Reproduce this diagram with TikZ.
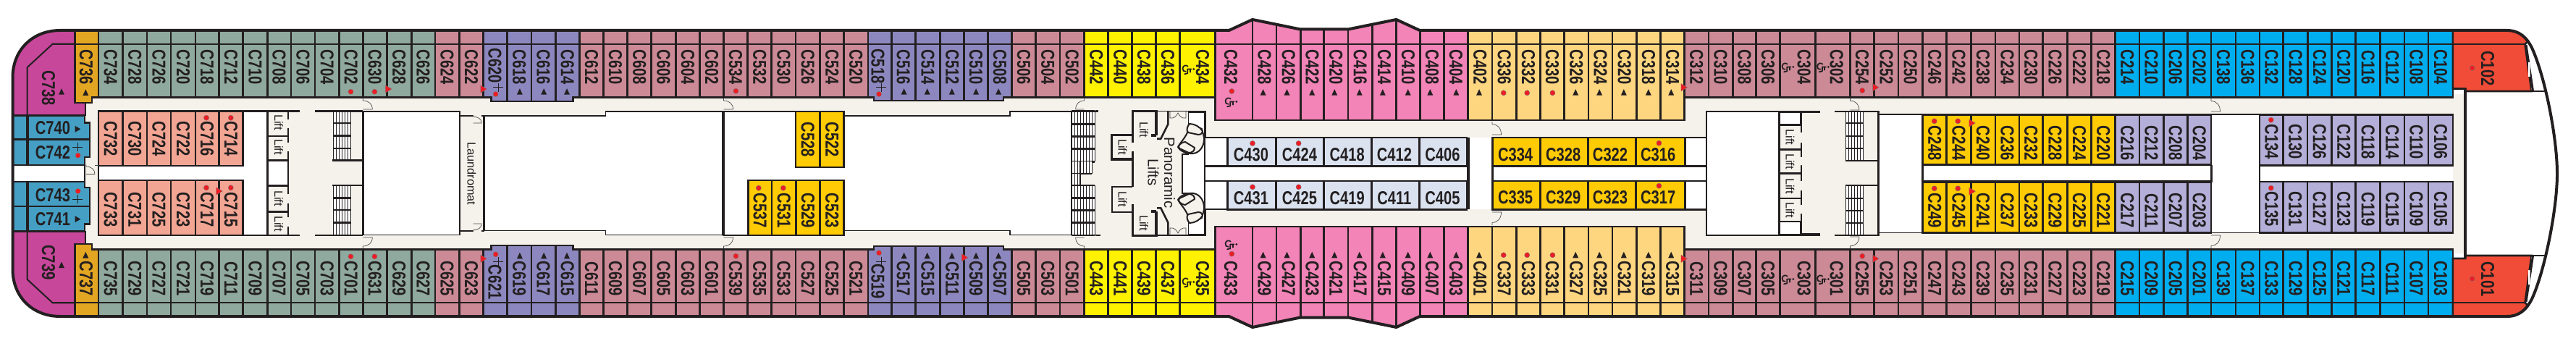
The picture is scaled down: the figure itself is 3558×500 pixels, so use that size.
\documentclass[tikz,border=0pt]{standalone}
\usepackage{fontspec}
\setmainfont{Liberation Sans}
\newfontfamily\cabf[FakeStretch=0.78]{Liberation Sans Bold}
\definecolor{ink}{HTML}{231F20}
\definecolor{magc}{HTML}{C7479B}
\definecolor{goldc}{HTML}{E3A623}
\definecolor{greenc}{HTML}{8FA99E}
\definecolor{salmc}{HTML}{F2A593}
\definecolor{bluec}{HTML}{459FC4}
\definecolor{corr}{HTML}{F5F1EB}
\definecolor{rosec}{HTML}{CC8A96}
\definecolor{perc}{HTML}{8C88BF}
\definecolor{ambc}{HTML}{FFCB05}
\definecolor{yelc}{HTML}{FFF200}
\definecolor{pinkc}{HTML}{F284B7}
\definecolor{palec}{HTML}{DAE2F0}
\definecolor{orac}{HTML}{FFD680}
\definecolor{cyanc}{HTML}{00AEEF}
\definecolor{lavc}{HTML}{B4AFD8}
\definecolor{redc}{HTML}{F04C37}
\definecolor{dotc}{HTML}{ED1C24}
\tikzset{
  sep/.style={draw=ink,line width=2.6pt},
  wall/.style={draw=ink,line width=2.6pt},
  thickwall/.style={draw=ink,line width=3.6pt},
  thinwall/.style={draw=ink,line width=1.6pt},
  doorline/.style={draw=ink!80,line width=0.7pt},
  cablabel/.style={font=\cabf\fontsize{25.8}{26}\selectfont,text=ink,inner sep=0pt,rotate=-90},
  cabhor/.style={font=\cabf\fontsize{25.8}{26}\selectfont,text=ink,inner sep=0pt},
  smalllabel/.style={font=\fontsize{16.3}{17}\selectfont,text=ink,inner sep=0pt,rotate=-90},
  biglabel/.style={font=\fontsize{20.5}{21}\selectfont,text=ink,inner sep=0pt,rotate=-90},
  reddot/.style={fill=dotc,draw=ink!60,line width=0.4pt},
}
\newcommand\hullpath{(83,42) -- (1697.5,42) -- (1730,27) -- (1796,40.5) -- (1862,40.5) -- (1928.6,27) -- (1961,42) -- (3462.6,42) .. controls (3480,42) and (3490,52) .. (3497,66) .. controls (3515,105) and (3532,190) .. (3532,240) .. controls (3532,288) and (3515,374) .. (3497,413) .. controls (3490,427) and (3480,437) .. (3462.6,437) -- (1961,437) -- (1928.6,452) -- (1862,438.5) -- (1796,438.5) -- (1730,452) -- (1697.5,437) -- (83,437) .. controls (45,437) and (17.5,410) .. (17.5,372) -- (17.5,107) .. controls (17.5,69) and (45,42) .. (83,42) -- cycle}
\newcommand\cabgroup[3]{%
  \foreach \l/\r/\a/\b in {#3}{%
    \fill[#1] (\l,20) rectangle (\r,#2);
    \fill[#1] (\l,479-#2) rectangle (\r,459);
    \draw[sep] (\l,20) -- (\l,#2) -- (\r,#2) -- (\r,20);
    \draw[sep] (\l,459) -- (\l,479-#2) -- (\r,479-#2) -- (\r,459);
    \pgfmathsetmacro\m{(\l+\r)/2}
    \node[cablabel] (\a) at (\m,93) {\a};
    \node[cablabel] (\b) at (\m,385) {\b};
  }}
\newcommand\cabblank[4]{%
  \fill[#1] (#2,20) rectangle (#3,#4);
  \fill[#1] (#2,479-#4) rectangle (#3,459);
  \draw[sep] (#2,20) -- (#2,#4) -- (#3,#4) -- (#3,20);
  \draw[sep] (#2,459) -- (#2,479-#4) -- (#3,479-#4) -- (#3,459);}
\newcommand\innerrow[5]{%
  \foreach \l/\r/\a in {#5}{%
    \filldraw[fill=#1,sep] (\l,#2) rectangle (\r,#3);
    \pgfmathsetmacro\m{(\l+\r)/2}
    \node[cablabel] (\a) at (\m,#4) {\a};
  }}
\newcommand\innerhor[5]{%
  \foreach \l/\r/\m/\a in {#5}{%
    \filldraw[fill=#1,sep] (\l,#2) rectangle (\r,#3);
    \node[cabhor] (\a) at (\m,#4) {\a};
  }}
\newcommand\dotat[2]{\fill[reddot] (#1,#2) circle[radius=3.6pt];}
\newcommand\triup[2]{\fill[ink] (#1-4,#2+4) -- (#1+4,#2+4) -- (#1,#2-4.5) -- cycle;}
\newcommand\triright[2]{\fill[ink] (#1-3.6,#2-4.5) -- (#1-3.6,#2+4.5) -- (#1+4,#2) -- cycle;}
\newcommand\redtri[2]{\filldraw[fill=dotc,draw=ink!60,line width=0.3pt] (#1-3.6,#2-5.2) -- (#1-3.6,#2+5.2) -- (#1+5,#2) -- cycle;}
\newcommand\plusmark[2]{\draw[ink,line width=0.9pt] (#1-7,#2) -- (#1+7,#2) (#1,#2-6) -- (#1,#2+6);}
\newcommand\wheelat[2]{\begin{scope}[shift={(#1,#2+3)},scale=0.85]
  \draw[ink,line width=1.7pt,line cap=round,line join=round] (4,-3) -- (-2,-3) -- (-2,4) -- (-7,5);
  \draw[ink,line width=1.7pt,line cap=round] (2,-3) -- (2,2);
  \draw[ink,line width=1.7pt,line cap=round] (-1.5,-7.5) .. controls (-4,-10) and (-9,-9.5) .. (-10,-4.5) .. controls (-10.5,-1) and (-8,1.5) .. (-5,1);
  \fill[ink] (8,-3) circle[radius=1.9pt];
\end{scope}}
\newcommand\door[4]{\draw[doorline] (#1,#2) -- (#1,#2+#4*0.2) .. controls (#1+#3*0.6,#2+#4*0.2) and (#1+#3,#2+#4*0.5) .. (#1+#3,#2+#4) -- (#1,#2+#4);}
\newcommand\stairflight[5]{%
  \fill[white] (#1,#3) rectangle (#1+#2*4,#4);
  \foreach \i in {0,...,#2}{\draw[ink,line width=0.9pt] (#1+\i*4,#3) -- (#1+\i*4,#4);}
  \foreach \v in {#5}{\draw[ink,line width=2.8pt] (#1,\v) -- (#1+#2*4,\v);}}
\begin{document}
\begin{tikzpicture}[x=1pt,y=-1pt]
\useasboundingbox (0,0) rectangle (3558,500);
\fill[white] (0,0) rectangle (3558,500);
\begin{scope}
\clip \hullpath;
\fill[corr] (116,130) rectangle (3405,350);
\filldraw[fill=white,wall] (136,153.5) rectangle (369.3,325);
\filldraw[fill=white,thinwall] (501.3,154) rectangle (635,324.5);
\filldraw[fill=white,thinwall] (669,160) -- (836.5,160) -- (836.5,154) -- (999,154) -- (999,324.5) -- (836.5,324.5) -- (836.5,318.5) -- (669,318.5) -- cycle;
\filldraw[fill=white,thinwall] (999,154) -- (1099,154) -- (1099,160) -- (1395,160) -- (1395,154) -- (1480,154) -- (1480,324.5) -- (1395,324.5) -- (1395,318.5) -- (1166,318.5) -- (1166,325) -- (999,325) -- cycle;
\draw[thickwall] (999,154) -- (999,325);
\draw[wall] (635,154) -- (635,325) (668.5,160) -- (668.5,319);
\draw[wall] (501.3,153.7) -- (501.3,325);
\fill[corr] (369.3,155) rectangle (500,323);
\draw[wall] (369.3,153.5) -- (369.3,325);
\draw[wall] (369.3,153.5) -- (414,153.5) (435,153.5) -- (501.3,153.5);
\draw[wall] (369.3,325) -- (414,325) (435,325) -- (501.3,325);
\filldraw[fill=white,wall] (369.3,221.7) rectangle (398,256.7);
\draw[wall] (369.3,187.8) -- (398,187.8) (369.3,292.5) -- (398,292.5);
\draw[wall] (398,155) -- (398,165) (398,177) -- (398,197) (398,209) -- (398,221)
 (398,257) -- (398,268) (398,281) -- (398,300) (398,313) -- (398,325);
\node[smalllabel] (l1) at (385,169) {Lift};
\node[smalllabel] (l2) at (385,203) {Lift};
\node[smalllabel] (l3) at (385,274) {Lift};
\node[smalllabel] (l4) at (385,309) {Lift};
\stairflight{460}{6}{155}{221.7}{170,187.7,205,221.7}
\stairflight{460}{6}{256}{323.5}{256,273.3,290,307.3}
\draw[wall] (459,221.7) -- (501.3,221.7) (459,256) -- (501.3,256);
\fill[corr] (637,158) rectangle (667,321);
\draw[thinwall] (636,160) -- (653.6,160) (665,160) -- (669,160) (636,319) -- (653.6,319) (665,319) -- (669,319);
\node[smalllabel] (laun) at (651.5,240) {Laundromat};
\door{653.6}{159}{11.5}{11}
\door{653.6}{320}{11.5}{-11}
\fill[corr] (1500,154) rectangle (1665,325);
\stairflight{1480}{8}{153.3}{223.3}{153.3,171.3,188.3,205.3,223.3}
\stairflight{1480}{7}{223.3}{240}{240}
\stairflight{1480}{3}{240}{256}{}
\stairflight{1480}{8}{256}{325}{256,273.3,290.3,307.7,325}
\draw[thinwall] (1492,223) -- (1492,256);
\draw[wall] (1513,153.3) -- (1517,153.3) (1513,325) -- (1520,325);
\draw[thickwall] (1597,187) -- (1597,153.5) -- (1564.3,153.5) -- (1564.3,186.5) -- (1535.5,186.5) -- (1535.5,220) -- (1564.3,220) -- (1564.3,209);
\draw[thickwall] (1564.3,209) -- (1564.3,258);
\draw[thickwall] (1564.3,186.5) -- (1564.3,197);
\draw[thickwall] (1590,187) -- (1597,187);
\draw[thickwall] (1597,292) -- (1597,325.5) -- (1564.3,325.5) -- (1564.3,292) (1590,292) -- (1597,292);
\draw[wall] (1564.3,258) -- (1536,258) -- (1536,293) -- (1564.3,293) -- (1564.3,282);
\draw[wall] (1598,191.7) -- (1603.3,191.7) -- (1613.3,171.7) -- (1613.3,154);
\draw[wall] (1598,287.3) -- (1603.3,287.3) -- (1613.3,307.3) -- (1613.3,325);
\draw[thinwall] (1598,153.5) -- (1665,153.5) -- (1665,325) -- (1598,325);
\filldraw[fill=white,thinwall] (1641.5,155) -- (1664,155) -- (1664,323.5) -- (1641.5,323.5) -- (1641.5,267) -- (1633,267) -- (1633,213) -- (1641.5,213) -- cycle;
\draw[doorline] (1616,154) -- (1616,163) .. controls (1622,164) and (1625,160) .. (1627,156) .. controls (1629,160) and (1632,164) .. (1638,163) -- (1638,154);
\draw[doorline] (1616,324) -- (1616,315) .. controls (1622,314) and (1625,318) .. (1627,322) .. controls (1629,318) and (1632,314) .. (1638,315) -- (1638,324);
\filldraw[fill=corr,draw=ink,line width=2pt,line join=round] (1643,171) .. controls (1640,175) and (1640,177) .. (1640,183) .. controls (1636,192) and (1630,197) .. (1627,203) .. controls (1630,209) and (1640,213) .. (1648,212) .. controls (1658,211) and (1664,200) .. (1663,190) .. controls (1662,184) and (1660,180) .. (1660,178) -- cycle;
\filldraw[fill=corr,draw=ink,line width=2pt,line join=round] (1643,171) .. controls (1650,171) and (1657,175) .. (1661,181) .. controls (1660,186) and (1657,186) .. (1655,186) -- (1641,183) .. controls (1638,180) and (1640,174) .. (1643,171) -- cycle;
\filldraw[fill=corr,draw=ink,line width=2pt,line join=round] (1637,196) -- (1650,204) .. controls (1650,209) and (1646,211) .. (1642,211) -- (1629,205) .. controls (1626,202) and (1630,197) .. (1637,196) -- cycle;
\filldraw[fill=corr,draw=ink,line width=2pt,line join=round] (1643,308) .. controls (1640,304) and (1640,302) .. (1640,296) .. controls (1636,287) and (1630,282) .. (1627,276) .. controls (1630,270) and (1640,266) .. (1648,267) .. controls (1658,268) and (1664,279) .. (1663,289) .. controls (1662,295) and (1660,299) .. (1660,301) -- cycle;
\filldraw[fill=corr,draw=ink,line width=2pt,line join=round] (1643,308) .. controls (1650,308) and (1657,304) .. (1661,298) .. controls (1660,293) and (1657,293) .. (1655,293) -- (1641,296) .. controls (1638,299) and (1640,305) .. (1643,308) -- cycle;
\filldraw[fill=corr,draw=ink,line width=2pt,line join=round] (1637,283) -- (1650,275) .. controls (1650,270) and (1646,268) .. (1642,268) -- (1629,274) .. controls (1626,277) and (1630,282) .. (1637,283) -- cycle;
\node[smalllabel] (l5) at (1580,179) {Lift};
\node[smalllabel] (l6) at (1550.5,203) {Lift};
\node[smalllabel] (l7) at (1550.5,275) {Lift};
\node[smalllabel] (l8) at (1580,308) {Lift};
\node[biglabel] (pan) at (1615.5,238.5) {Panoramic};
\node[biglabel] (lif) at (1593,238) {Lifts};
\fill[white] (1665,190) rectangle (2357,289);
\draw[thinwall] (1665,190) -- (1697,190) (1665,289) -- (1697,289);
\draw[wall] (1665,229.3) -- (2027,229.3) (1665,250) -- (2027,250);
\innerhor{palec}{190}{229.3}{214}{1695.6/1762.6/1728/C430,1762.6/1828.7/1795/C424,1828.7/1894.3/1860.7/C418,1894.3/1960.7/1925.9/C412,1960.7/2025.8/1992.5/C406}
\innerhor{palec}{250}{289.3}{274}{1695.6/1762.6/1728/C431,1762.6/1828.7/1795/C425,1828.7/1894.3/1860.7/C419,1894.3/1960.7/1925.9/C411,1960.7/2025.8/1992.5/C405}
\innerhor{ambc}{190}{229.3}{214}{2061.4/2127.2/2093.1/C334,2127.2/2193.4/2159.2/C328,2193.4/2259.2/2224/C322,2259.2/2327.3/2290.2/C316}
\innerhor{ambc}{250}{289.3}{273}{2061.4/2127.2/2093.1/C335,2127.2/2193.4/2159.2/C329,2193.4/2259.2/2224/C323,2259.2/2327.3/2290.2/C317}
\draw[thickwall] (2027.7,190) -- (2027.7,289.3) (2061.4,190) -- (2061.4,289.3);
\draw[wall] (2061.4,229.3) -- (2357,229.3) (2061.4,250) -- (2357,250) (2327.3,190) -- (2357,190) (2327.3,289.3) -- (2357,289.3);
\filldraw[fill=white,wall] (2357,154) -- (2512.5,154) -- (2512.5,155) -- (2487.3,155) -- (2487.3,323.5) -- (2512.5,323.5) -- (2512.5,325) -- (2357,325) -- cycle;
\fill[corr] (2458.5,155.5) rectangle (2487,322.5);
\draw[wall] (2534,154) -- (2594.5,154) -- (2594.5,325) -- (2534,325);
\draw[wall] (2457.4,154) -- (2457.4,325);
\draw[wall] (2512.5,154) -- (2487.3,154) (2512.5,325) -- (2487.3,325);
\fill[corr] (2485.5,183) rectangle (2489,197) (2485.5,217) rectangle (2489,228) (2485.5,250) rectangle (2489,263) (2485.5,283) rectangle (2489,295);
\filldraw[fill=white,wall] (2457.4,155) rectangle (2487.3,172.5);
\filldraw[fill=white,wall] (2457.4,306) rectangle (2487.3,324);
\draw[wall] (2457.4,206.5) -- (2487.3,206.5) (2457.4,239.5) -- (2487.3,239.5) (2457.4,274) -- (2487.3,274);
\node[smalllabel] (l9) at (2472.5,189.5) {Lift};
\node[smalllabel] (l10) at (2472.5,223) {Lift};
\node[smalllabel] (l11) at (2472.5,257) {Lift};
\node[smalllabel] (l12) at (2472.5,290) {Lift};
\stairflight{2549}{6}{155}{222}{170,188,205,222}
\stairflight{2549}{6}{256}{324}{256,274,291,308}
\draw[wall] (2548.5,222) -- (2594.5,222) (2548.5,256) -- (2594.5,256);
\filldraw[fill=white,thinwall] (2595.5,158) rectangle (2655.6,321.5);
\filldraw[fill=white,thinwall] (3054,158) rectangle (3121,321.5);
\fill[white] (2655.6,227.6) rectangle (3054,250.3);
\fill[white] (3121,228.5) rectangle (3387.9,251);
\draw[wall] (2655.6,227.6) -- (3055,227.6);
\draw[thickwall] (2655.6,250.3) -- (3055,250.3);
\draw[wall] (2655.6,227.6) -- (2655.6,252);
\innerrow{ambc}{158.3}{227.6}{198}{2655.6/2688.6/C248,2688.6/2722.2/C244,2722.2/2755.9/C240,2755.9/2788.8/C236,2788.8/2821.7/C232,2821.7/2855.4/C228,2855.4/2888.7/C224,2888.7/2921.6/C220}
\innerrow{ambc}{252}{321.3}{291}{2655.6/2688.6/C249,2688.6/2722.2/C245,2722.2/2755.9/C241,2755.9/2788.8/C237,2788.8/2821.7/C233,2821.7/2855.4/C229,2855.4/2888.7/C225,2888.7/2921.6/C221}
\innerrow{lavc}{158.3}{227.6}{198}{2921.6/2954.9/C216,2954.9/2988.2/C212,2988.2/3021.4/C208,3021.4/3054/C204}
\innerrow{lavc}{252}{321.3}{291}{2921.6/2954.9/C217,2954.9/2988.2/C211,2988.2/3021.4/C207,3021.4/3054/C203}
\draw[wall] (3054.5,227.6) -- (3054.5,252);
\innerrow{lavc}{158.3}{228.5}{196}{3121/3153.7/C134,3153.7/3186.8/C130,3186.8/3220.6/C126,3220.6/3253.7/C122,3253.7/3287.5/C118,3287.5/3321/C114,3321/3354/C110,3354/3387.9/C106}
\innerrow{lavc}{251}{321.3}{289}{3121/3153.7/C135,3153.7/3186.8/C131,3186.8/3220.6/C127,3220.6/3253.7/C123,3253.7/3287.5/C119,3287.5/3321/C115,3321/3354/C109,3354/3387.9/C105}
\draw[wall] (3121,158) -- (3121,321.5);
\innerrow{salmc}{153.5}{229}{192}{136/169.5/C732,169.5/202.8/C730,202.8/236/C724,236/269.8/C722,269.8/302.3/C716,302.3/335.6/C714}
\innerrow{salmc}{249}{325}{289.5}{136/169.5/C733,169.5/202.8/C731,202.8/236/C725,236/269.8/C723,269.8/302.3/C717,302.3/335.6/C715}
\innerrow{ambc}{154}{231}{193}{1099/1132.7/C528,1132.7/1165.6/C522}
\innerrow{ambc}{249}{325}{291}{1033.4/1066/C537,1066/1099.4/C531,1099.4/1132.7/C529,1132.7/1165.6/C523}
\cabgroup{greenc}{134.5}{135.9/169.5/C734/C735,169.5/202.8/C728/C729,202.8/236/C726/C727,236/269.8/C720/C721,269.8/302.3/C718/C719,302.3/335.6/C712/C711,335.6/369.3/C710/C709,369.3/401.8/C708/C707,401.8/435.1/C706/C705,435.1/468.4/C704/C703,468.4/501.3/C702/C701,501.3/534.2/C630/C631,534.2/568.3/C628/C629,568.3/600.8/C626/C627}
\cabgroup{rosec}{134.5}{600.8/634.4/C624/C625,634.4/667.4/C622/C623}
\cabgroup{rosec}{134.5}{800.5/833.4/C612/C611,833.4/866.7/C610/C609,866.7/899.7/C608/C607,899.7/933.3/C606/C605,933.3/966.6/C604/C603,966.6/999.5/C602/C601,999.5/1032.5/C534/C539,1032.5/1065.7/C532/C535,1065.7/1099/C530/C533,1099/1132.7/C526/C527,1132.7/1165.6/C524/C525,1165.6/1198.9/C520/C521}
\cabblank{perc}{667.4}{700.6}{134.5}
\cabblank{perc}{1198.9}{1231.4}{134.5}
\cabgroup{perc}{134.5}{700.6/733.9/C618/C619,733.9/767.2/C616/C617,767.2/800.5/C614/C615}
\cabgroup{perc}{134.5}{1231.4/1264.3/C516/C517,1264.3/1298.7/C514/C515,1298.7/1331.6/C512/C511,1331.6/1364.6/C510/C509,1364.6/1397.5/C508/C507}
\filldraw[fill=perc,wall] (678.5,133) -- (678.5,140) -- (791.6,140) -- (791.6,133);
\filldraw[fill=perc,wall] (678.5,346) -- (678.5,339) -- (791.6,339) -- (791.6,346);
\filldraw[fill=perc,wall] (1207,133) -- (1207,139) -- (1386,139) -- (1386,133);
\filldraw[fill=perc,wall] (1207,346) -- (1207,340) -- (1386,340) -- (1386,346);
\draw[sep] (700.6,125) -- (700.6,140) (733.9,125) -- (733.9,140) (767.2,125) -- (767.2,140) (1231.4,125) -- (1231.4,139) (1264.3,125) -- (1264.3,139) (1298.7,125) -- (1298.7,139) (1331.6,125) -- (1331.6,139) (1364.6,125) -- (1364.6,139);
\draw[sep] (700.6,339) -- (700.6,354) (733.9,339) -- (733.9,354) (767.2,339) -- (767.2,354) (1231.4,340) -- (1231.4,354) (1264.3,340) -- (1264.3,354) (1298.7,340) -- (1298.7,354) (1331.6,340) -- (1331.6,354) (1364.6,340) -- (1364.6,354);
\node[cablabel] (C620) at (683.4,91) {C620};
\node[cablabel] (C621) at (683.4,390) {C621};
\node[cablabel] (C518) at (1212.6,91.5) {C518};
\node[cablabel] (C519) at (1212.6,389) {C519};
\cabgroup{rosec}{134.5}{1397.5/1430.4/C506/C505,1430.4/1464/C504/C503,1464/1497.7/C502/C501}
\cabgroup{yelc}{134.5}{1497.7/1530.7/C442/C443,1530.7/1563.6/C440/C441,1563.6/1596.5/C438/C439,1596.5/1629.4/C436/C437}
\cabblank{yelc}{1629.4}{1678.4}{134.5}
\node[cablabel] (C434) at (1661,93) {C434};
\node[cablabel] (C435) at (1661,385) {C435};
\cabblank{pinkc}{1678.4}{1730}{166}
\node[cablabel] (C432) at (1700,93) {C432};
\node[cablabel] (C433) at (1700,385) {C433};
\cabgroup{pinkc}{166}{1730/1763/C428/C429,1763/1796.3/C426/C427,1796.3/1828.7/C422/C423,1828.7/1862/C420/C421,1862/1895.3/C416/C417,1895.3/1928.6/C414/C415,1928.6/1961.5/C410/C409,1961.5/1994.4/C408/C407,1994.4/2027.7/C404/C403}
\cabgroup{orac}{166}{2027.7/2061/C402/C401,2061/2094.3/C336/C337,2094.3/2127.6/C332/C333,2127.6/2160.5/C330/C331,2160.5/2193.8/C326/C327,2193.8/2227.1/C324/C325,2227.1/2260.4/C320/C321,2260.4/2293.7/C318/C319,2293.7/2326.6/C314/C315}
\cabgroup{rosec}{134.5}{2326.6/2359.9/C312/C311,2359.9/2393.2/C310/C309,2393.2/2425.6/C308/C307,2425.6/2458.2/C306/C305}
\cabblank{rosec}{2458.2}{2507.2}{134.5}
\cabblank{rosec}{2507.2}{2555.4}{134.5}
\node[cablabel] (C304) at (2491.8,93) {C304};
\node[cablabel] (C303) at (2491.8,385) {C303};
\node[cablabel] (C302) at (2536.6,93) {C302};
\node[cablabel] (C301) at (2536.6,385) {C301};
\cabgroup{rosec}{134.5}{2555.4/2588.7/C254/C255,2588.7/2622/C252/C253,2622/2655.6/C250/C251,2655.6/2688.6/C246/C247,2688.6/2722.2/C242/C243,2722.2/2755.9/C238/C239,2755.9/2788.8/C234/C235,2788.8/2821.7/C230/C231,2821.7/2855.4/C226/C227,2855.4/2888.7/C222/C223,2888.7/2921.6/C218/C219}
\cabgroup{cyanc}{134.5}{2921.6/2954.9/C214/C215,2954.9/2988.2/C210/C209,2988.2/3021.4/C206/C205,3021.4/3054/C202/C201,3054/3087.9/C138/C139,3087.9/3121/C136/C137,3121/3153.7/C132/C133,3153.7/3187.5/C128/C129,3187.5/3220.6/C124/C125,3220.6/3253.7/C120/C121,3253.7/3287.5/C116/C117,3287.5/3321/C112/C111,3321/3354/C108/C107,3354/3387.9/C104/C103}
\filldraw[fill=goldc,wall] (103.3,20) -- (103.3,142) -- (127,142) -- (127,134.5) -- (135.9,134.5) -- (135.9,20);
\filldraw[fill=goldc,wall] (103.3,459) -- (103.3,337) -- (127,337) -- (127,344.5) -- (135.9,344.5) -- (135.9,459);
\node[cablabel] (C736) at (119,93) {C736};
\node[cablabel] (C737) at (119,385) {C737};
\filldraw[fill=magc,wall] (0,20) -- (103.3,20) -- (103.3,142) -- (118,142) -- (118,159) -- (0,159) -- cycle;
\filldraw[fill=magc,wall] (0,459) -- (103.3,459) -- (103.3,337) -- (118,337) -- (118,320) -- (0,320) -- cycle;
\draw[wall,line width=2pt] (37.7,159) -- (37.7,93) -- (72.7,60.7) -- (103,60.7);
\draw[wall,line width=2pt] (37.7,320) -- (37.7,386) -- (72.7,418.3) -- (103,418.3);
\node[cablabel] (C738) at (67,121.7) {C738};
\node[cablabel] (C739) at (67,362.5) {C739};
\filldraw[fill=bluec,wall] (10,159.5) -- (117,159.5) -- (117,169.5) -- (124,169.5) -- (124,192.7) -- (10,192.7) -- cycle;
\filldraw[fill=bluec,wall] (10,192.7) -- (124,192.7) -- (124,217) -- (117,217) -- (117,228) -- (10,228) -- cycle;
\filldraw[fill=bluec,wall] (10,251) -- (117,251) -- (117,259) -- (124,259) -- (124,285) -- (10,285) -- cycle;
\filldraw[fill=bluec,wall] (10,285) -- (124,285) -- (124,309.5) -- (117,309.5) -- (117,319) -- (10,319) -- cycle;
\filldraw[fill=white,wall] (10,228) rectangle (117,251);
\draw[thickwall] (38,159.5) -- (38,228) (38,251) -- (38,319);
\node[cabhor] (C740) at (73,177) {C740};
\node[cabhor] (C742) at (73,210.5) {C742};
\node[cabhor] (C743) at (73,270) {C743};
\node[cabhor] (C741) at (73,303) {C741};
\door{119}{227.5}{12}{13}
\draw[doorline] (131,228) -- (136,228);
\fill[white] (3405,126) rectangle (3540,352);
\filldraw[fill=redc,wall] (3387.9,20) -- (3387.9,122.5) -- (3405,122.5) -- (3405,126) -- (3496.5,126) -- (3487.5,61) -- (3530,20) -- cycle;
\filldraw[fill=redc,wall] (3387.9,459) -- (3387.9,357) -- (3405,357) -- (3405,353) -- (3496.5,353) -- (3487.5,418) -- (3530,459) -- cycle;
\fill[white] (3492,62) -- (3540,62) -- (3540,126) -- (3496.5,124) -- cycle;
\fill[white] (3492,417) -- (3540,417) -- (3540,354) -- (3496.5,355) -- cycle;
\draw[ink,line width=3pt] (3489,62) -- (3498.5,126) (3489,417) -- (3498.5,353);
\draw[ink,line width=2pt] (3405,126) -- (3520,126) (3405,353) -- (3520,353);
\draw[thickwall] (3404.7,122) -- (3404.7,357);
\fill[corr] (3389,135) rectangle (3403,345);
\fill[white] (3492,86) rectangle (3494.5,106) (3492,373) rectangle (3494.5,393);
\node[cablabel] (C102) at (3436,94.5) {C102};
\node[cablabel] (C101) at (3436,385.5) {C101};
\draw[ink,line width=2pt] (72,60.7) -- (3487.5,60.7) (72,418.3) -- (3487.5,418.3);
\end{scope}
\draw[ink,line width=4pt,line join=round] \hullpath;
\door{501.3}{136}{13}{15}\door{501.3}{343}{13}{-15}
\door{999.5}{136}{13}{15}\door{999.5}{343}{13}{-15}
\door{1497.7}{136}{-12}{15}\door{1497.7}{343}{-12}{-15}
\door{2061}{168}{12.5}{18}\door{2061}{311}{12.5}{-18}
\door{2555.4}{136}{12.5}{16}\door{2555.4}{343}{12.5}{-16}
\door{3054}{136}{12.5}{18}\door{3054}{343}{12.5}{-18}
\foreach \x/\y in {484.5/126.7,517.4/126.7,285/162.7,318.8/162.7,285/259.3,318.8/259.3,484.5/354.3,517.4/354.3,107.7/214.7,107.7/264,684.6/130,684.6/351.3,1016.4/125.7,1016.4/353.7,1047.8/259.7,1081.8/259.7,1214/130,1214/349.3,1701.3/126,1701.3/350.7,1730/198,1793.6/198,1730/258.3,1793.6/258.3,2076.7/128.3,2109.2/128.3,2144.4/128.3,2076.7/352.3,2109.2/352.3,2144.4/352.3,2291.4/197.7,2291.4/256.7,2572.2/125,2572.2/353.7,2671.7/167.3,2704.2/167.3,2671.7/260.3,2704.2/260.3,3136.7/165.7,3136.7/259.7,3414.6/94,3414.6/385}{\dotat{\x}{\y}}
\foreach \x/\y in {536/123,302.3/264,667.4/123,667.4/357.3,1332/355.7,2325.5/120.7,2325.5/357.3,2590.2/120.7,2590.2/357.3,2723.4/170,2723.4/264.3}{\redtri{\x}{\y}}
\foreach \x in {717.9,751.2,783,1248.6,1280.7,1314.8,1348.1,1379.1}{\triup{\x}{126.7}\triup{\x}{353.3}}
\foreach \x in {1744.6,1777.5,1812.2,1843.2,1877.7,1909.8,1944.7,1975.3,2011.3,2043,2176.2,2209.1,2242.8,2276.8,2308.2}{\triup{\x}{127.7}\triup{\x}{352.3}}
\triup{85}{126.7}\triup{85}{366}\triup{118.3}{128}\triup{118.3}{352.5}
\triright{107.3}{178.3}\triright{107.3}{302.7}
\plusmark{107}{203}\plusmark{107}{275}\plusmark{688}{120.7}\plusmark{688}{361}\plusmark{1217}{120.7}\plusmark{1217}{361}
\wheelat{1642}{95}\wheelat{1642}{389}\wheelat{1701}{140}\wheelat{1701}{337}\wheelat{2470}{92}\wheelat{2470}{385}\wheelat{2518.6}{92}\wheelat{2518.6}{385}
\end{tikzpicture}
\end{document}
